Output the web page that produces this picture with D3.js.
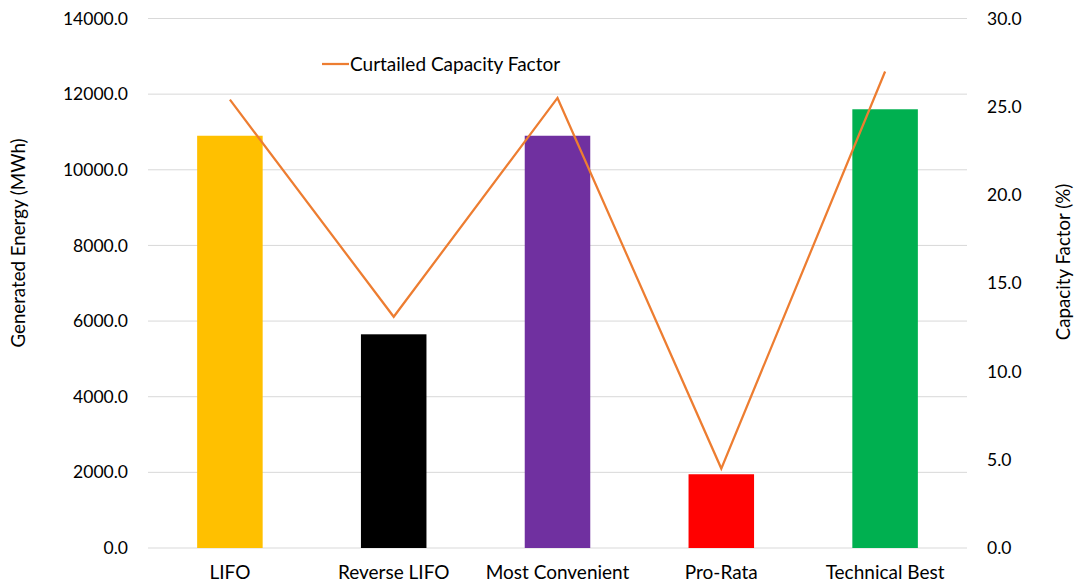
<!DOCTYPE html>
<html>
<head>
<meta charset="utf-8">
<script src="https://cdn.jsdelivr.net/npm/d3@7"></script>
<style>
  body { margin: 0; background: #fff; }
  text { font-family: Lato, "Open Sans", sans-serif; fill: #000; }
</style>
</head>
<body>
<div id="chart"></div>
<script>
// data
var categories = ["LIFO", "Reverse LIFO", "Most Convenient", "Pro-Rata", "Technical Best"];
var energy = [10900, 5650, 10900, 1950, 11600];          // MWh, bars
var capacityFactor = [25.4, 13.1, 25.5, 4.5, 27.0];      // %, line
var barColors = ["#FFC000", "#000000", "#7030A0", "#FF0000", "#00B050"];
var leftTicks = [0, 2000, 4000, 6000, 8000, 10000, 12000, 14000];
var rightTicks = [0, 5, 10, 15, 20, 25, 30];

var width = 1079, height = 586;
var plot = { left: 148, right: 967, top: 18.5, bottom: 548 };
var font = "Lato, 'Open Sans', sans-serif";

var svg = d3.select("#chart").append("svg")
    .attr("width", width)
    .attr("height", height);

var x = d3.scaleBand()
    .domain(categories)
    .range([plot.left, plot.right])
    .paddingInner(0.6)
    .paddingOuter(0.3);

var y = d3.scaleLinear().domain([0, 14000]).range([plot.bottom, plot.top]);
var y2 = d3.scaleLinear().domain([0, 30]).range([plot.bottom, plot.top]);

// gridlines
svg.append("g")
    .selectAll("line")
    .data(leftTicks)
    .enter().append("line")
    .attr("x1", plot.left).attr("x2", plot.right)
    .attr("y1", function(d) { return y(d); })
    .attr("y2", function(d) { return y(d); })
    .attr("stroke", "#D9D9D9")
    .attr("stroke-width", 1);

// left axis labels
var leftAxis = svg.append("g")
    .attr("transform", "translate(" + plot.left + ",0)")
    .call(d3.axisLeft(y).tickValues(leftTicks).tickFormat(d3.format(".1f")).tickSize(0).tickPadding(20));
leftAxis.select(".domain").remove();
leftAxis.selectAll("text").attr("font-size", "17.5px").attr("font-family", font).attr("fill", "#000");

// right axis labels
var rightAxis = svg.append("g")
    .attr("transform", "translate(" + plot.right + ",0)")
    .call(d3.axisRight(y2).tickValues(rightTicks).tickFormat(d3.format(".1f")).tickSize(0).tickPadding(20));
rightAxis.select(".domain").remove();
rightAxis.selectAll("text").attr("font-size", "17.5px").attr("font-family", font).attr("fill", "#000");

// category labels
var bottomAxis = svg.append("g")
    .attr("transform", "translate(0," + plot.bottom + ")")
    .call(d3.axisBottom(x).tickSize(0).tickPadding(18));
bottomAxis.select(".domain").remove();
bottomAxis.selectAll("text").attr("font-size", "19px").attr("font-family", font).attr("fill", "#000");

// bars
svg.selectAll(".bar")
    .data(categories)
    .enter().append("rect")
    .attr("class", "bar")
    .attr("x", function(d) { return x(d); })
    .attr("width", x.bandwidth())
    .attr("y", function(d, i) { return y(energy[i]); })
    .attr("height", function(d, i) { return plot.bottom - y(energy[i]); })
    .attr("fill", function(d, i) { return barColors[i]; });

// capacity factor line
var line = d3.line()
    .x(function(d, i) { return x(categories[i]) + x.bandwidth() / 2; })
    .y(function(d) { return y2(d); });

svg.append("path")
    .datum(capacityFactor)
    .attr("d", line)
    .attr("fill", "none")
    .attr("stroke", "#ED7D31")
    .attr("stroke-width", 2.25);

// legend
svg.append("line")
    .attr("x1", 322).attr("x2", 349)
    .attr("y1", 64).attr("y2", 64)
    .attr("stroke", "#ED7D31")
    .attr("stroke-width", 2.25);
svg.append("text")
    .attr("x", 350).attr("y", 71)
    .attr("font-size", "19px")
    .text("Curtailed Capacity Factor");

// axis titles
svg.append("text")
    .attr("transform", "translate(25,243) rotate(-90)")
    .attr("text-anchor", "middle")
    .attr("font-size", "18.7px")
    .text("Generated Energy (MWh)");

svg.append("text")
    .attr("transform", "translate(1070,262) rotate(-90)")
    .attr("text-anchor", "middle")
    .attr("font-size", "18.7px")
    .text("Capacity Factor (%)");
</script>
</body>
</html>
